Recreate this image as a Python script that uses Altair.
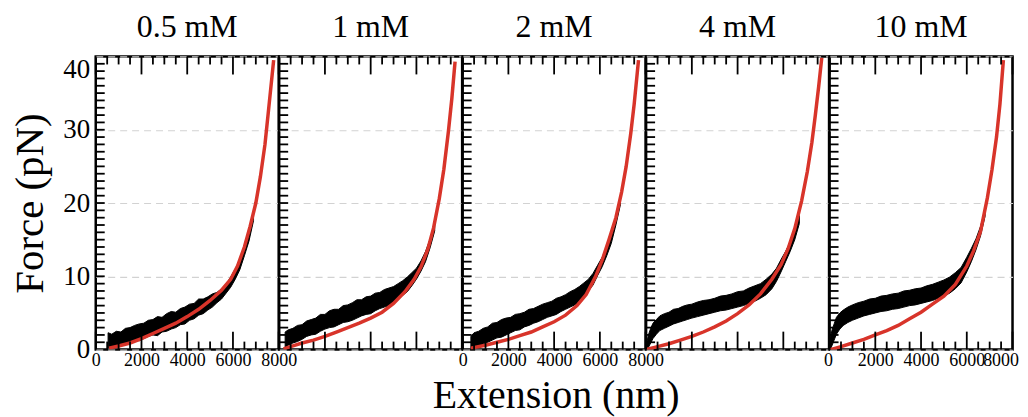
import altair as alt
import pandas as pd

FONT = "Liberation Serif"
W, H = 183.5, 294
RED = "#d8342a"

panels = ["0.5 mM", "1 mM", "2 mM", "4 mM", "10 mM"]

# ---- measured traces (black band: lower / upper edge of the noisy trace) ----
ext1 = [540, 700, 900, 1100, 1300, 1500, 1700, 1900, 2100, 2300, 2500, 2700, 2900, 3100, 3300, 3500, 3700,
        3900, 4100, 4300, 4500, 4700, 4900, 5100, 5300, 5500, 5700, 5900, 6100, 6300, 6500, 6700, 6900]
lo1 = [0.3, 0.2, 0.6, 0.5, 0.9, 0.9, 1.3, 1.2, 1.5, 1.8, 2.0, 1.9, 2.4, 2.5, 2.8, 3.0, 3.4,
       3.5, 4.0, 4.2, 4.7, 4.9, 5.4, 5.8, 6.4, 6.9, 7.7, 8.5, 9.6, 10.9, 12.8, 14.8, 17.6]
hi1 = [2.3, 2.1, 2.5, 2.4, 2.9, 3.0, 3.3, 3.5, 3.6, 4.0, 4.1, 4.5, 4.4, 4.9, 5.2, 5.1, 5.6,
       5.8, 6.2, 6.3, 6.9, 6.9, 7.2, 7.6, 7.8, 8.3, 8.9, 9.9, 11.0, 12.3, 14.0, 16.2, 18.9]

ext2 = [260, 400, 600, 800, 1000, 1200, 1400, 1600, 1800, 2000, 2200, 2400, 2600, 2800, 3000, 3200, 3400,
        3600, 3800, 4000, 4200, 4400, 4600, 4800, 5000, 5200, 5400, 5600, 5800, 6000, 6200, 6400, 6600, 6800]
lo2 = [0.3, 0.6, 0.9, 1.1, 1.4, 1.8, 2.0, 2.1, 2.5, 2.8, 3.0, 3.1, 3.4, 3.7, 3.8, 4.0, 4.3,
       4.6, 4.8, 4.9, 5.3, 5.6, 5.8, 6.0, 6.5, 6.9, 7.4, 7.9, 8.7, 9.6, 10.7, 12.0, 13.9, 16.2]
hi2 = [2.4, 2.7, 2.9, 3.3, 3.4, 3.9, 4.1, 4.3, 4.8, 4.8, 5.3, 5.5, 5.5, 6.0, 6.1, 6.4, 6.8,
       6.8, 7.2, 7.3, 7.7, 7.8, 8.2, 8.4, 8.6, 9.0, 9.4, 9.9, 10.5, 11.1, 12.1, 13.4, 15.1, 17.3]

ext3 = [360, 500, 700, 900, 1100, 1300, 1500, 1700, 1900, 2100, 2300, 2500, 2700, 2900, 3100, 3300, 3500,
        3700, 3900, 4100, 4300, 4500, 4700, 4900, 5100, 5300, 5500, 5700, 5900, 6100, 6300, 6500, 6700, 6900]
lo3 = [0.2, 0.3, 0.5, 0.8, 1.0, 1.3, 1.6, 1.7, 2.0, 2.3, 2.6, 2.7, 3.1, 3.3, 3.6, 3.8, 4.1,
       4.4, 4.6, 4.8, 5.2, 5.5, 5.8, 6.1, 6.6, 7.2, 8.0, 8.8, 10.1, 11.3, 12.8, 14.5, 17.0, 19.8]
hi3 = [1.8, 2.3, 2.5, 2.9, 3.1, 3.6, 3.7, 4.1, 4.3, 4.4, 4.8, 4.9, 5.1, 5.5, 5.6, 5.9, 6.2,
       6.4, 6.6, 7.0, 7.2, 7.5, 7.9, 8.2, 8.6, 9.1, 9.6, 10.4, 11.5, 12.6, 14.0, 15.8, 18.2, 21.0]

ext4 = [20, 100, 200, 300, 450, 600, 800, 1000, 1200, 1400, 1600, 1800, 2000, 2250, 2500, 2750, 3000,
        3250, 3500, 3750, 4000, 4250, 4500, 4750, 5000, 5250, 5500, 5700, 5900, 6100, 6300, 6500, 6700]
lo4 = [0.0, 0.3, 0.9, 1.5, 2.1, 2.6, 2.9, 3.2, 3.5, 3.7, 3.9, 4.1, 4.3, 4.5, 4.7, 4.9, 5.1,
       5.3, 5.4, 5.6, 5.8, 6.0, 6.3, 6.6, 7.0, 7.5, 8.3, 9.3, 10.6, 12.0, 13.4, 15.0, 17.2]
hi4 = [0.8, 2.0, 2.9, 3.6, 4.1, 4.6, 4.9, 5.1, 5.5, 5.6, 5.9, 6.1, 6.2, 6.5, 6.7, 6.8, 7.0,
       7.3, 7.4, 7.6, 7.9, 8.0, 8.4, 8.7, 9.0, 9.6, 10.3, 11.1, 12.3, 13.4, 14.7, 16.2, 18.3]

ext5 = [30, 100, 200, 300, 450, 600, 800, 1000, 1250, 1500, 1750, 2000, 2250, 2500, 2750, 3000,
        3250, 3500, 3750, 4000, 4250, 4500, 4750, 5000, 5250, 5500, 5750, 6000, 6200, 6400, 6600, 6800]
lo5 = [0.0, 0.5, 1.3, 2.1, 2.8, 3.3, 3.7, 4.0, 4.3, 4.6, 4.8, 5.0, 5.2, 5.3, 5.5, 5.6,
       5.8, 6.0, 6.1, 6.3, 6.5, 6.7, 7.0, 7.3, 7.7, 8.3, 9.1, 10.6, 12.0, 13.6, 15.5, 18.2]
hi5 = [1.2, 2.6, 3.5, 4.4, 5.0, 5.4, 5.8, 6.1, 6.4, 6.6, 6.9, 7.0, 7.3, 7.4, 7.6, 7.7,
       8.0, 8.1, 8.3, 8.4, 8.7, 8.9, 9.2, 9.5, 9.9, 10.5, 11.2, 12.6, 13.8, 15.1, 16.8, 19.2]

# ---- fitted curves (red) ----
fx1 = [580, 1000, 1500, 2000, 2500, 3000, 3500, 4000, 4500, 5000, 5500, 5900, 6200, 6500, 6750, 7000, 7200, 7400, 7550, 7780]
fy1 = [0.2, 0.5, 0.9, 1.5, 2.2, 2.9, 3.6, 4.5, 5.5, 6.7, 8.1, 9.6, 11.4, 14.0, 16.8, 20.0, 23.6, 28.0, 32.5, 39.5]
fx2 = [190, 600, 1000, 1500, 2000, 2500, 3000, 3500, 4000, 4500, 5000, 5500, 5900, 6200, 6500, 6750, 7000, 7200, 7400, 7550, 7690]
fy2 = [0.1, 0.5, 0.9, 1.3, 1.8, 2.4, 3.0, 3.6, 4.3, 5.1, 6.3, 7.9, 9.6, 11.3, 13.7, 16.6, 20.6, 24.6, 29.8, 34.3, 39.3]
fx3 = [360, 1000, 1500, 2000, 2500, 3000, 3500, 4000, 4500, 5000, 5400, 5800, 6100, 6400, 6700, 6950, 7150, 7350, 7500, 7690]
fy3 = [0.2, 0.6, 1.0, 1.4, 1.9, 2.4, 3.1, 3.8, 4.7, 6.0, 7.5, 9.9, 12.2, 15.0, 18.0, 21.5, 25.0, 29.5, 33.5, 39.5]
fx4 = [0, 500, 1000, 1500, 2000, 2500, 3000, 3500, 4000, 4500, 5000, 5500, 5900, 6200, 6500, 6800, 7050, 7250, 7400, 7550, 7680]
fy4 = [0.0, 0.4, 0.8, 1.3, 1.8, 2.4, 3.1, 3.9, 4.9, 6.1, 7.6, 9.6, 11.6, 13.7, 16.5, 20.3, 24.3, 28.3, 32.0, 36.0, 39.8]
fx5 = [40, 500, 1000, 1500, 2000, 2500, 3000, 3500, 4000, 4500, 5000, 5500, 6000, 6300, 6600, 6900, 7100, 7300, 7450, 7600]
fy5 = [0.0, 0.4, 0.9, 1.4, 2.0, 2.6, 3.3, 4.2, 5.1, 6.2, 7.3, 8.9, 11.4, 13.5, 16.1, 20.7, 24.5, 29.0, 33.5, 39.5]

band_x = [ext1, ext2, ext3, ext4, ext5]
band_lo = [lo1, lo2, lo3, lo4, lo5]
band_hi = [hi1, hi2, hi3, hi4, hi5]
fit_x = [fx1, fx2, fx3, fx4, fx5]
fit_y = [fy1, fy2, fy3, fy4, fy5]

# ---- axis tick positions ----
x_major = [0, 2000, 4000, 6000, 8000]
x_minor = [500, 1000, 1500, 2500, 3000, 3500, 4500, 5000, 5500, 6500, 7000, 7500]
y_ticks = [v for v in range(1, 40)]
y_labels = [0, 10, 20, 30, 40]

xscale = alt.Scale(domain=[0, 8000], nice=False, zero=False)
yscale = alt.Scale(domain=[0, 40], nice=False)

charts = []
for i, name in enumerate(panels):
    band_df = pd.DataFrame({"ext": band_x[i], "lo": band_lo[i], "hi": band_hi[i]})
    fit_df = pd.DataFrame({"ext": fit_x[i], "F": fit_y[i]})

    last = (i == len(panels) - 1)
    x_axis = alt.Axis(values=x_major, labels=(i % 2 == 0), ticks=False, domain=False, grid=False,
                      format="d", labelFont=FONT, labelFontSize=18, labelPadding=2,
                      labelColor="black", labelOverlap=False,
                      labelFlush=last, labelFlushOffset=(6 if last else 0))
    y_axis = alt.Axis(values=y_labels, labels=(i == 0), ticks=False, domain=False, grid=True,
                      gridDash=[7, 5], gridColor="#d2d2d2", gridWidth=1.2,
                      labelFont=FONT, labelFontSize=27, labelPadding=6, labelColor="black",
                      labelOverlap=False, labelFlush=False,
                      labelBaseline={"condition": {"test": "datum.value == 40", "value": "top"},
                                     "value": "middle"},
                      titleFont=FONT, titleFontSize=41, titleFontWeight="normal",
                      titleColor="black", titlePadding=11)
    ytitle = "Force (pN)" if i == 0 else ""

    band = alt.Chart(band_df).mark_area(color="black", stroke="black", strokeWidth=1, clip=True).encode(
        x=alt.X("ext:Q", scale=xscale, title="", axis=x_axis),
        y=alt.Y("lo:Q", scale=yscale, title=ytitle, axis=y_axis),
        y2="hi:Q",
    )
    fit = alt.Chart(fit_df).mark_line(color=RED, strokeWidth=3.5, clip=True).encode(
        x=alt.X("ext:Q", scale=xscale, title="", axis=x_axis),
        y=alt.Y("F:Q", scale=yscale, title=ytitle, axis=y_axis),
    )
    tick_style = dict(color="black", strokeWidth=1.8)
    xmaj = pd.DataFrame({"v": x_major})
    xmin = pd.DataFrame({"v": x_minor})
    ytk = pd.DataFrame({"v": y_ticks})
    bot_maj = alt.Chart(xmaj).mark_rule(**tick_style).encode(
        x=alt.X("v:Q", scale=xscale, title="", axis=x_axis), y=alt.value(H), y2=alt.value(H - 18))
    bot_min = alt.Chart(xmin).mark_rule(**tick_style).encode(
        x=alt.X("v:Q", scale=xscale, title="", axis=x_axis), y=alt.value(H), y2=alt.value(H - 8))
    top_maj = alt.Chart(xmaj).mark_rule(**tick_style).encode(
        x=alt.X("v:Q", scale=xscale, title="", axis=x_axis), y=alt.value(0), y2=alt.value(18))
    top_min = alt.Chart(xmin).mark_rule(**tick_style).encode(
        x=alt.X("v:Q", scale=xscale, title="", axis=x_axis), y=alt.value(0), y2=alt.value(8))
    left = alt.Chart(ytk).mark_rule(**tick_style).encode(
        y=alt.Y("v:Q", scale=yscale, title=ytitle, axis=y_axis), x=alt.value(0), x2=alt.value(9))

    layer = alt.layer(band, fit, bot_maj, bot_min, top_maj, top_min, left).properties(
        width=W, height=H,
        title=alt.TitleParams(name, font=FONT, fontSize=32, fontWeight="normal", color="black",
                              offset=-13, baseline="alphabetic"),
    )
    charts.append(layer)

chart = alt.hconcat(*charts, spacing=0, bounds="flush").properties(
    title=alt.TitleParams("Extension (nm)", orient="bottom", anchor="middle", font=FONT, fontSize=40,
                          fontWeight="normal", color="black", offset=5, baseline="top", dx=42),
    padding={"left": 0, "top": 0, "right": 0, "bottom": 0},
    background="white",
).configure_view(stroke="black", strokeWidth=2.5)

chart.save("out.html", embed_options={"renderer": "svg", "actions": False})
